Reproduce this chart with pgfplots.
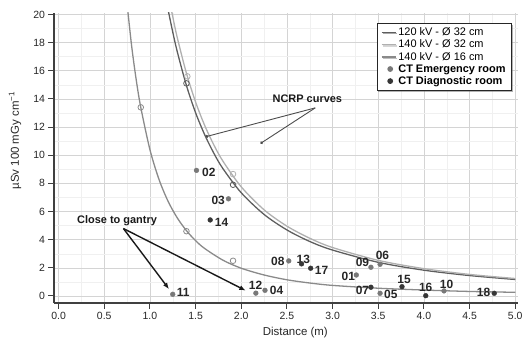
\documentclass[border=0pt]{standalone}
\usepackage{pgfplots}
\pgfplotsset{compat=1.18}
\usepackage{fontspec}
\setmainfont{Liberation Sans}
\usetikzlibrary{arrows.meta,shadows}
\definecolor{cA}{HTML}{5E5E5E}
\definecolor{cB}{HTML}{B0B0B0}
\definecolor{cC}{HTML}{8A8A8A}
\definecolor{cEm}{HTML}{787878}
\definecolor{cDi}{HTML}{363636}
\pgfplotsset{shortline/.style={legend image code/.code={\draw[##1] (0bp,0bp) -- (14bp,0bp);}}}
\begin{document}
\begin{tikzpicture}
\useasboundingbox (-54bp,-37bp) rectangle (470bp,303bp);
\begin{axis}[
  at={(0,0)}, anchor=south west,
  width=464bp, height=290bp, scale only axis,
  xmin=-0.05, xmax=5.03, ymin=-0.5, ymax=20.1,
  axis x line*=bottom, axis y line*=left,
  axis line style={line width=1.6pt, black!75, -},
  xtick={0,0.5,...,5}, ytick={0,2,...,20},
  minor x tick num=1, minor y tick num=1,
  tick align=outside, major tick length=5.5bp, minor tick length=0pt,
  tick style={line width=1pt, black!75},
  grid=both, major grid style={black!17, line width=0.6pt},
  minor grid style={black!6, line width=0.4pt},
  /pgf/number format/assume math mode=true,
  ticklabel style={font=\fontsize{10.5}{12}\selectfont, text=black!85},
  xticklabel style={/pgf/number format/.cd, fixed, fixed zerofill, precision=1},
  xlabel={Distance (m)},
  ylabel={µSv 100 mGy cm\textsuperscript{−1}},
  label style={font=\fontsize{11.5}{13}\selectfont, text=black!85},
  xlabel style={at={(axis description cs:0.52,-0.103)}, anchor=center},
  ylabel style={at={(axis description cs:-0.084,0.56)}, anchor=center},
  legend style={at={(0.987,0.966)}, anchor=north east, draw=black!85, line width=0.9pt,
    fill=white, font=\fontsize{11}{12}\selectfont, row sep=-1.2bp, inner xsep=4bp, inner ysep=2.5bp,
    drop shadow={shadow xshift=1.2bp, shadow yshift=-1.2bp, fill=black!60}},
  legend cell align=left,
]
% NCRP curves
\addplot[cA, line width=1.3pt, smooth, shortline] coordinates {
 (1.2,20.3) (1.25,18.75) (1.3,17.34) (1.4,14.95) (1.5,13.02) (1.6,11.45) (1.7,10.14)
 (1.8,9.04) (2.0,7.33) (2.25,5.79) (2.5,4.69) (2.75,3.87) (3.0,3.26) (3.5,2.39)
 (4.0,1.83) (4.5,1.45) (5.0,1.17)};
\addlegendentry{120 kV - Ø 32 cm}
\addplot[cB, line width=1.3pt, smooth, shortline] coordinates {
 (1.2,21.5) (1.25,19.84) (1.3,18.34) (1.4,15.82) (1.5,13.78) (1.6,12.11) (1.7,10.73)
 (1.8,9.57) (2.0,7.75) (2.25,6.12) (2.5,4.96) (2.75,4.10) (3.0,3.44) (3.5,2.53)
 (4.0,1.94) (4.5,1.53) (5.0,1.24)};
\addlegendentry{140 kV - Ø 32 cm}
\addplot[cC, line width=1.3pt, smooth, shortline] coordinates {
 (0.75,20.74) (0.8,17.76) (0.85,15.36) (0.9,13.4) (1.0,10.4) (1.1,8.27) (1.2,6.71)
 (1.3,5.54) (1.4,4.64) (1.5,3.93) (1.6,3.37) (1.8,2.54) (2.0,1.97) (2.25,1.49)
 (2.5,1.15) (2.75,0.92) (3.0,0.75) (3.5,0.55) (4.0,0.42) (4.5,0.32) (5.0,0.26)};
\addlegendentry{140 kV - Ø 16 cm}
% CT rooms
\addplot[only marks, mark=*, mark size=2.4bp, cEm] coordinates {
 (1.51,8.92) (1.86,6.9) (1.25,0.12) (2.16,0.2) (2.26,0.4) (2.52,2.49)
 (3.26,1.49) (3.42,2.04) (3.52,2.25) (3.52,0.19) (4.22,0.36)};
\addlegendentry{\textbf{CT Emergency room}}
\addplot[only marks, mark=*, mark size=2.4bp, cDi] coordinates {
 (1.66,5.4) (2.66,2.28) (2.76,1.97) (3.42,0.62) (3.76,0.66) (4.02,0.02) (4.77,0.19)};
\addlegendentry{\textbf{CT Diagnostic room}}
% open circles on curves
\addplot[only marks, mark=o, mark size=2.8bp, mark options={fill=white, draw=cC, line width=0.8pt}, forget plot] coordinates {
 (0.90,13.4) (1.40,4.6) (1.91,2.5)};
\addplot[only marks, mark=o, mark size=2.8bp, mark options={fill=white, draw=cB, line width=0.8pt}, forget plot] coordinates {
 (1.41,15.6) (1.91,8.66)};
\addplot[only marks, mark=o, mark size=2.8bp, mark options={fill=white, draw=cA, line width=0.8pt}, forget plot] coordinates {
 (1.40,15.1) (1.91,7.9)};
% point labels
\begin{scope}[every node/.style={font=\bfseries\fontsize{12}{12}\selectfont, text=black!85, inner sep=0pt}]
\node at (axis cs:1.645,8.78) {02};
\node at (axis cs:1.748,6.78) {03};
\node at (axis cs:1.784,5.25) {14};
\node at (axis cs:1.364,0.26) {11};
\node at (axis cs:2.157,0.78) {12};
\node at (axis cs:2.387,0.38) {04};
\node at (axis cs:2.40,2.49) {08};
\node at (axis cs:2.68,2.61) {13};
\node at (axis cs:2.88,1.85) {17};
\node at (axis cs:3.173,1.37) {01};
\node at (axis cs:3.327,2.40) {09};
\node at (axis cs:3.546,2.85) {06};
\node at (axis cs:3.327,0.43) {07};
\node at (axis cs:3.637,0.12) {05};
\node at (axis cs:3.783,1.14) {15};
\node at (axis cs:4.02,0.59) {16};
\node at (axis cs:4.248,0.85) {10};
\node at (axis cs:4.653,0.26) {18};
\end{scope}
\node[font=\bfseries\fontsize{11}{11}\selectfont, text=black!90, inner sep=0pt] at (axis cs:0.64,5.36) {Close to gantry};
\node[font=\bfseries\fontsize{11}{11}\selectfont, text=black!90, inner sep=0pt] at (axis cs:2.724,14.02) {NCRP curves};
% annotation arrows
\draw[line width=1.4pt, black!90, -{Latex[length=6.5bp,width=5bp]}] (axis cs:0.71,4.79) -- (axis cs:1.21,0.48);
\draw[line width=1.4pt, black!90, -{Latex[length=6.5bp,width=5bp]}] (axis cs:0.71,4.79) -- (axis cs:2.05,0.38);
\draw[line width=0.9pt, black!70, -{Circle[length=2.8bp]}] (axis cs:2.81,13.36) -- (axis cs:1.61,11.31);
\draw[line width=0.9pt, black!70, -{Circle[length=2.8bp]}] (axis cs:2.81,13.36) -- (axis cs:2.21,10.83);
\end{axis}
\end{tikzpicture}
\end{document}
